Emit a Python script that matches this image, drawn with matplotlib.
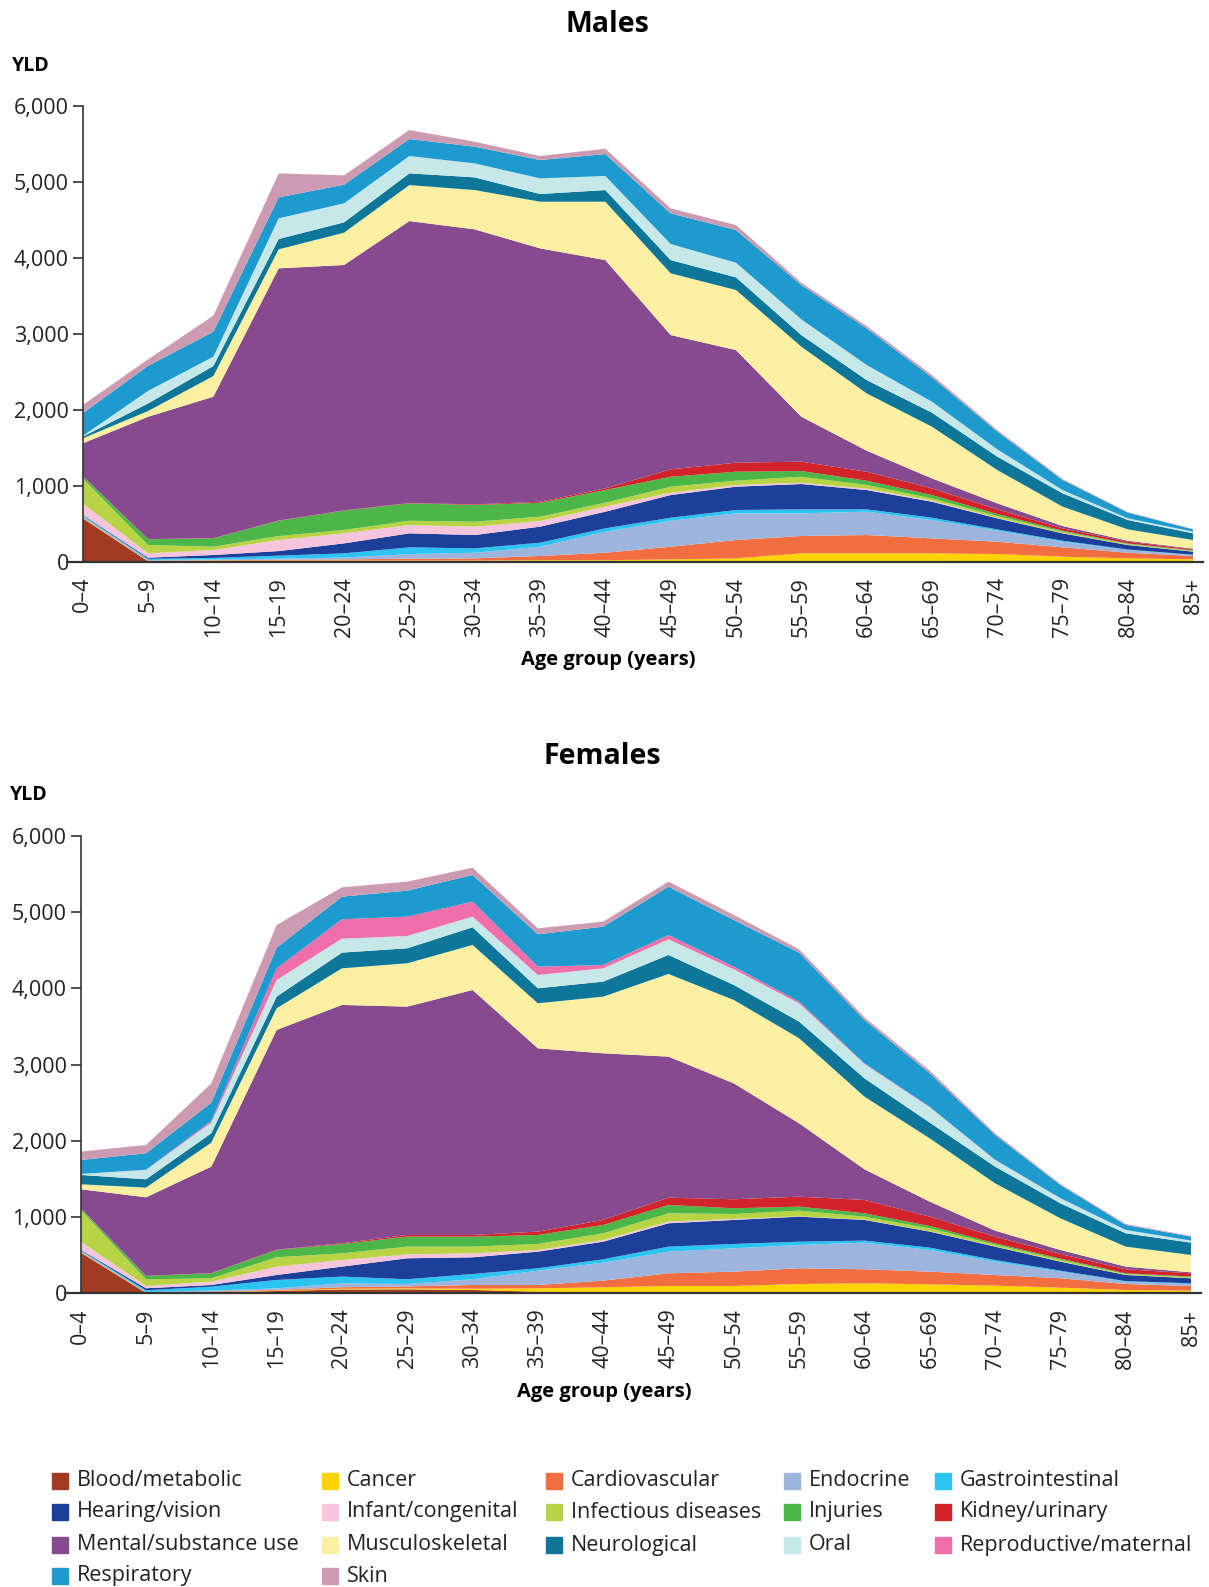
import numpy as np
import matplotlib
matplotlib.use("Agg")
import matplotlib.pyplot as plt
from matplotlib.patches import Rectangle

plt.rcParams['font.family'] = ['Open Sans', 'DejaVu Sans']

# --- data (YLD per age group) ---

age_groups = ['0–4', '5–9', '10–14', '15–19', '20–24', '25–29', '30–34', '35–39', '40–44',
              '45–49', '50–54', '55–59', '60–64', '65–69', '70–74', '75–79', '80–84', '85+']

categories = ['Blood/metabolic', 'Cancer', 'Cardiovascular', 'Endocrine', 'Gastrointestinal',
              'Hearing/vision', 'Infant/congenital', 'Infectious diseases', 'Injuries',
              'Kidney/urinary', 'Mental/substance use', 'Musculoskeletal', 'Neurological',
              'Oral', 'Reproductive/maternal', 'Respiratory', 'Skin']

colors = ['#A23B24', '#FDD400', '#F26E40', '#9DB5DD', '#2BC4F3', '#1C3F99', '#F6C5DB',
          '#B8D445', '#4CB748', '#D2232A', '#874A8E', '#FBF0A2', '#0E7698', '#C7E8E8',
          '#F06EA9', '#1D9ACE', '#CD9BB1']

# males
m_blood      = [570, 5, 10, 10, 10, 10, 10, 10, 10, 10, 10, 10, 10, 10, 8, 5, 3, 2]
m_cancer     = [5, 3, 5, 5, 5, 5, 5, 10, 10, 20, 34, 100, 100, 100, 93, 61, 41, 29]
m_cardio     = [10, 5, 5, 10, 15, 25, 29, 55, 98, 167, 241, 228, 241, 197, 162, 123, 74, 44]
m_endocrine  = [10, 10, 10, 15, 25, 60, 74, 122, 277, 342, 351, 298, 307, 241, 145, 74, 36, 13]
m_gastro     = [15, 15, 20, 40, 55, 89, 57, 53, 44, 40, 44, 53, 31, 31, 17, 13, 6, 4]
m_hearing    = [8, 15, 38, 60, 131, 184, 176, 211, 219, 298, 307, 333, 254, 210, 145, 97, 59, 40]
m_infant     = [150, 57, 66, 145, 132, 109, 110, 74, 66, 31, 22, 17, 18, 14, 5, 3, 2, 1]
m_infectious = [328, 110, 43, 53, 44, 57, 65, 57, 52, 79, 57, 79, 48, 30, 26, 19, 11, 9]
m_injuries   = [31, 75, 110, 201, 254, 229, 220, 184, 167, 131, 118, 75, 57, 44, 26, 13, 8, 8]
m_kidney     = [3, 2, 3, 3, 4, 4, 8, 13, 22, 97, 119, 123, 118, 88, 62, 31, 23, 12]
m_mental     = [427, 1610, 1861, 3318, 3229, 3710, 3619, 3334, 3004, 1767, 1482, 592, 277, 131, 79, 30, 13, 9]
m_musculo    = [66, 75, 272, 250, 425, 474, 517, 614, 768, 812, 790, 921, 754, 680, 438, 255, 149, 114]
m_neuro      = [22, 100, 132, 136, 136, 154, 167, 101, 153, 175, 166, 153, 175, 185, 176, 175, 123, 88]
m_oral       = [10, 165, 122, 272, 250, 228, 184, 206, 185, 211, 193, 207, 198, 144, 96, 44, 22, 22]
m_reprod     = [0, 0, 0, 0, 0, 0, 0, 0, 0, 0, 0, 0, 0, 0, 0, 0, 0, 0]
m_resp       = [297, 330, 329, 276, 246, 223, 220, 241, 289, 403, 430, 451, 482, 320, 233, 132, 75, 30]
m_skin       = [109, 85, 211, 316, 122, 119, 65, 53, 70, 66, 66, 31, 31, 31, 21, 13, 7, 5]

# females
f_blood      = [533, 5, 10, 30, 50, 52, 44, 20, 15, 15, 12, 10, 10, 10, 8, 5, 3, 2]
f_cancer     = [4, 3, 5, 5, 10, 13, 16, 46, 64, 81, 84, 112, 121, 108, 93, 69, 41, 33]
f_cardio     = [8, 4, 7, 10, 20, 25, 49, 43, 87, 166, 188, 206, 184, 166, 139, 123, 78, 61]
f_endocrine  = [7, 6, 13, 20, 51, 32, 75, 188, 236, 284, 306, 306, 349, 284, 175, 87, 31, 26]
f_gastro     = [13, 22, 52, 110, 88, 62, 69, 31, 44, 66, 57, 43, 27, 31, 22, 13, 7, 9]
f_hearing    = [7, 26, 22, 65, 131, 275, 219, 218, 231, 306, 315, 328, 271, 210, 175, 118, 80, 66]
f_infant     = [105, 30, 44, 110, 87, 52, 52, 22, 22, 22, 13, 5, 4, 3, 2, 2, 1, 1]
f_infectious = [416, 88, 44, 122, 87, 101, 88, 79, 88, 109, 65, 74, 39, 40, 24, 23, 11, 12]
f_injuries   = [22, 43, 65, 96, 123, 131, 131, 118, 109, 109, 75, 52, 44, 31, 18, 15, 10, 10]
f_kidney     = [3, 2, 3, 4, 9, 22, 22, 44, 66, 96, 118, 131, 175, 122, 87, 61, 53, 42]
f_mental     = [246, 1030, 1396, 2881, 3125, 2994, 3212, 2403, 2185, 1849, 1520, 962, 402, 197, 79, 52, 35, 13]
f_musculo    = [65, 127, 315, 284, 480, 568, 590, 590, 743, 1084, 1093, 1115, 953, 830, 620, 415, 262, 228]
f_neuro      = [123, 109, 122, 153, 206, 197, 232, 197, 197, 249, 197, 218, 240, 206, 219, 197, 175, 161]
f_oral       = [13, 122, 140, 218, 183, 161, 140, 175, 174, 206, 205, 240, 188, 201, 87, 66, 43, 27]
f_reprod     = [0, 3, 22, 153, 254, 254, 196, 109, 44, 56, 35, 22, 8, 6, 4, 2, 1, 0]
f_resp       = [183, 216, 240, 271, 297, 341, 350, 424, 503, 634, 612, 643, 569, 440, 324, 172, 65, 52]
f_skin       = [110, 109, 253, 297, 122, 118, 96, 79, 65, 66, 66, 44, 35, 35, 22, 14, 13, 9]

males = [m_blood, m_cancer, m_cardio, m_endocrine, m_gastro, m_hearing, m_infant, m_infectious,
         m_injuries, m_kidney, m_mental, m_musculo, m_neuro, m_oral, m_reprod, m_resp, m_skin]
females = [f_blood, f_cancer, f_cardio, f_endocrine, f_gastro, f_hearing, f_infant, f_infectious,
           f_injuries, f_kidney, f_mental, f_musculo, f_neuro, f_oral, f_reprod, f_resp, f_skin]

W, H = 1209, 1587
fig = plt.figure(figsize=(W / 100, H / 100), dpi=100)


def px(x, y):
    return x / W, 1 - y / H


def draw_panel(rect, series, title, title_xy, yld_xy, xlab_xy):
    left, top, right, bottom = rect
    ax = fig.add_axes([left / W, 1 - bottom / H, (right - left) / W, (bottom - top) / H])
    x = np.arange(len(age_groups))
    ax.stackplot(x, np.array(series, dtype=float), colors=colors, linewidth=0)
    ax.set_xlim(0, len(age_groups) - 1)
    ax.set_ylim(0, 6000)

    for s in ['top', 'right', 'bottom']:
        ax.spines[s].set_visible(False)
    ax.spines['left'].set_color('#333333')
    ax.spines['left'].set_linewidth(1.2)
    ax.plot([-0.24, len(age_groups) - 1 + 0.15], [0, 0], color='#333333', lw=1.6,
            clip_on=False, zorder=5)

    ax.set_yticks(range(0, 6001, 1000))
    ax.set_yticklabels([f'{v:,}' for v in range(0, 6001, 1000)], fontsize=15.5, color='#222222')
    ax.tick_params(axis='y', length=7, width=1.2, color='#333333', pad=3)
    ax.set_xticks(x)
    ax.set_xticklabels(age_groups, rotation=90, fontsize=15.5, color='#222222')
    ax.tick_params(axis='x', length=0, pad=11)

    fig.text(*px(*title_xy), title, ha='center', va='center', fontsize=20.5, fontweight='bold')
    fig.text(*px(*yld_xy), 'YLD', ha='left', va='center', fontsize=14, fontweight='bold')
    fig.text(*px(*xlab_xy), 'Age group (years)', ha='center', va='center',
             fontsize=14.5, fontweight='bold')
    return ax


draw_panel((82.7, 105.7, 1193.3, 561.7), males, 'Males', (607, 24), (12, 66), (608, 660))
draw_panel((80.7, 835.7, 1191.0, 1293.3), females, 'Females', (602, 757), (10, 795), (604, 1392))

# --- legend, laid out row by row like the original ---
col_x = [52, 322, 546, 784, 935]
row_y = [1481, 1512, 1545, 1576]
sq = 16
for i, (name, c) in enumerate(zip(categories, colors)):
    r, k = divmod(i, 5)
    x0, y0 = col_x[k], row_y[r]
    fig.add_artist(Rectangle(px(x0, y0 + sq / 2), sq / W, sq / H, color=c,
                             transform=fig.transFigure))
    fig.text(*px(x0 + sq + 9, y0), name, ha='left', va='center', fontsize=15.5, color='#222222')

fig.savefig('out.png', dpi=100)
